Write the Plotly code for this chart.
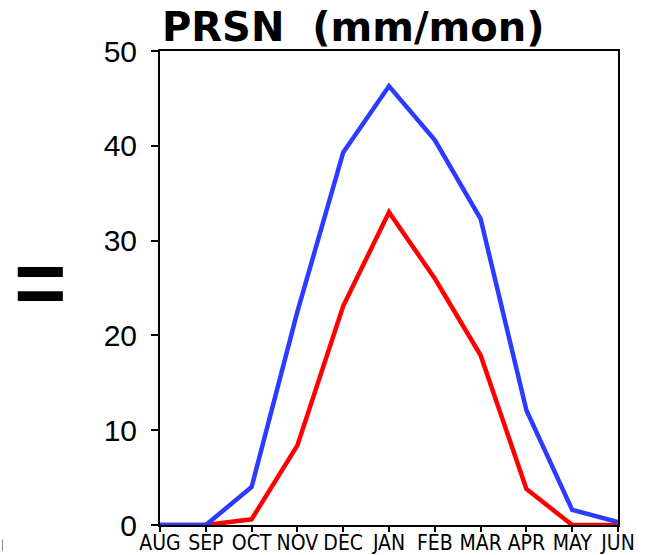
import plotly.graph_objects as go

months = ["AUG", "SEP", "OCT", "NOV", "DEC", "JAN", "FEB", "MAR", "APR", "MAY", "JUN"]
prsn_blue = [0.0, 0.0, 4.0, 22.5, 39.3, 46.3, 40.6, 32.3, 12.1, 1.6, 0.3]
prsn_red = [0.0, 0.0, 0.6, 8.4, 23.1, 33.0, 26.0, 17.9, 3.8, 0.0, 0.0]
y_ticks = [0, 10, 20, 30, 40, 50]

x_idx = list(range(len(months)))

fig = go.Figure()
fig.add_trace(go.Scatter(x=x_idx, y=prsn_red, mode="lines",
                         line=dict(color="#ff0000", width=4.5), showlegend=False))
fig.add_trace(go.Scatter(x=x_idx, y=prsn_blue, mode="lines",
                         line=dict(color="#2b3bff", width=4.5), showlegend=False))

axis_common = dict(showline=True, linecolor="black", linewidth=2, mirror=True,
                   showgrid=False, zeroline=False, ticks="outside",
                   tickwidth=2, tickcolor="black", automargin=False)

fig.update_xaxes(range=[0, len(months) - 1], tickvals=x_idx, ticktext=months,
                 tickfont=dict(family="DejaVu Sans Condensed, Roboto", size=21, color="black"),
                 ticklen=5, ticklabelstandoff=-7, **axis_common)
fig.update_yaxes(range=[0, 50], tickvals=y_ticks, ticktext=[str(v) for v in y_ticks],
                 tickfont=dict(family="Liberation Sans", size=30, color="black"),
                 ticklen=7, ticklabelstandoff=8, **axis_common)

fig.add_annotation(text="<b>PRSN  (mm/mon)</b>", xref="paper", yref="paper",
                   x=0.0, y=1.0, xanchor="left", yanchor="bottom", yshift=-1,
                   showarrow=False,
                   font=dict(family="DejaVu Sans", size=40, color="black"))
fig.add_annotation(text="<b>=</b>", xref="paper", yref="paper",
                   x=-0.26, y=0.51, xanchor="center", yanchor="middle",
                   showarrow=False,
                   font=dict(family="Liberation Sans", size=90, color="black"))
fig.add_shape(type="line", xref="paper", yref="paper",
              x0=-0.344, x1=-0.344, y0=-0.03, y1=-0.055,
              line=dict(color="#888888", width=1))

fig.update_layout(width=648, height=555, paper_bgcolor="white", plot_bgcolor="white",
                  margin=dict(l=160, r=30, t=51, b=30))

fig.write_html("out.html")
